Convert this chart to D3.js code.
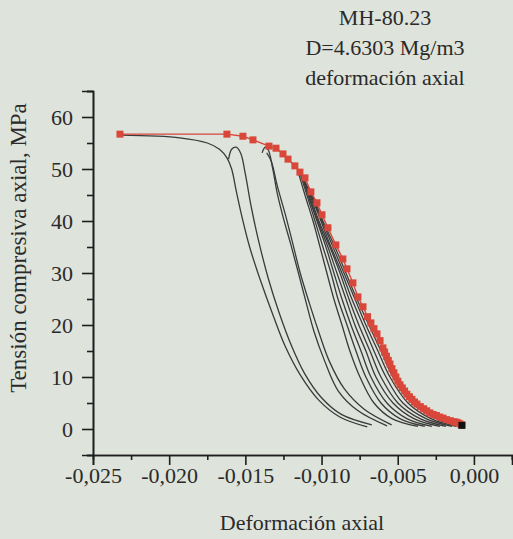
<!DOCTYPE html>
<html>
<head>
<meta charset="utf-8">
<script src="https://cdn.jsdelivr.net/npm/d3@7"></script>
<style>
  body { margin: 0; background: #dee3dc; }
  svg { display: block; }
</style>
</head>
<body>
<svg class="chart" width="513" height="539"></svg>
<script>
// title lines
let titleLines = ["MH-80.23", "D=4.6303 Mg/m3", "deformación axial"];

// axis ticks
let xTicks = [-0.025, -0.020, -0.015, -0.010, -0.005, 0.000];
let xMinor = [-0.0225, -0.0175, -0.0125, -0.0075, -0.0025, 0.0025];
let yTicks = [0, 10, 20, 30, 40, 50, 60];
let yMinor = [-5, 5, 15, 25, 35, 45, 55, 65];

// envelope (red markers) [strain, stress MPa]
let envelope = [
  [-0.02323, 56.7], [-0.01621, 56.7], [-0.01516, 56.3], [-0.0145, 55.6], [-0.01345, 54.4],
  [-0.01299, 54.0], [-0.01253, 52.9], [-0.0122, 51.9], [-0.01175, 50.6], [-0.01142, 49.4],
  [-0.01109, 48.3], [-0.0107, 45.6], [-0.0103, 43.5], [-0.00997, 41.2], [-0.00958, 38.7],
  [-0.00906, 35.4], [-0.0086, 32.7], [-0.00833, 30.8], [-0.00794, 28.1], [-0.00761, 25.4],
  [-0.00728, 23.5], [-0.00698, 21.6], [-0.00676, 20.4], [-0.00656, 19.3], [-0.00636, 18.3],
  [-0.00616, 17.0], [-0.00597, 15.6], [-0.00586, 14.8], [-0.00574, 14.0], [-0.00562, 13.2],
  [-0.00551, 12.5], [-0.00538, 11.6], [-0.00525, 10.8], [-0.00512, 10.0], [-0.00499, 9.2],
  [-0.00485, 8.5], [-0.0047, 7.9], [-0.00455, 7.3], [-0.0044, 6.7], [-0.00423, 6.2],
  [-0.00407, 5.7], [-0.0039, 5.2], [-0.00374, 4.8], [-0.00352, 4.3], [-0.0033, 3.9],
  [-0.0031, 3.5], [-0.00289, 3.1], [-0.00268, 2.8], [-0.00246, 2.6], [-0.00225, 2.3],
  [-0.00203, 2.1], [-0.0018, 1.8], [-0.00155, 1.6], [-0.0013, 1.4], [-0.00117, 1.3],
  [-0.00105, 1.2], [-0.00092, 1.0], [-0.00079, 0.8]
];
let endPoint = [-0.00079, 0.7];

// black curves, left group
let curveK1 = [[-0.0232, 56.5], [-0.0193, 56.0], [-0.0175, 55.0], [-0.0167, 53.8], [-0.0162, 52.1],
  [-0.0159, 50.0], [-0.0156, 45.8], [-0.0152, 40.5], [-0.0147, 34.8], [-0.0140, 28.5],
  [-0.0132, 22.0], [-0.0124, 16.0], [-0.0114, 10.4], [-0.0102, 5.6], [-0.0088, 2.3], [-0.0070, 0.4]];
let curveK2 = [[-0.0161, 51.9], [-0.0159, 53.8], [-0.0156, 54.2], [-0.0153, 53.0], [-0.0150, 49.0],
  [-0.0146, 42.5], [-0.0141, 35.8], [-0.0135, 29.0], [-0.0128, 22.5], [-0.0120, 16.2],
  [-0.0111, 10.6], [-0.0100, 6.0], [-0.0087, 2.8], [-0.0067, 0.8]];
let curveK3 = [[-0.0139, 53.1], [-0.0137, 54.2], [-0.0135, 53.7], [-0.0132, 50.0], [-0.0129, 45.2],
  [-0.0125, 40.5], [-0.0120, 35.3], [-0.0115, 29.8], [-0.0110, 24.2], [-0.0105, 18.8],
  [-0.0098, 13.1], [-0.0089, 7.3], [-0.0076, 3.5], [-0.0057, 0.6]];
let curveK4 = [[-0.0136, 53.1], [-0.0133, 51.5], [-0.0129, 46.7], [-0.0124, 41.5], [-0.0119, 35.8],
  [-0.0114, 30.0], [-0.0108, 24.2], [-0.0102, 18.8], [-0.0095, 13.1], [-0.0085, 7.7],
  [-0.0072, 3.8], [-0.0054, 0.8]];

// black curves, right group (close to envelope)
let curveR1 = [[-0.01155, 49.6], [-0.01109, 45], [-0.01056, 40], [-0.0101, 35], [-0.00965, 30], [-0.00919, 25],
  [-0.00866, 20], [-0.00814, 15], [-0.00748, 10], [-0.00656, 5], [-0.00538, 2], [-0.00367, 0.5]];
let curveR2 = [[-0.01142, 49.2], [-0.01096, 45], [-0.01043, 40], [-0.00991, 35], [-0.00938, 30], [-0.00892, 25],
  [-0.00833, 20], [-0.00774, 15], [-0.00709, 10], [-0.0061, 5], [-0.00486, 2], [-0.00322, 0.5]];
let curveR3 = [[-0.01135, 49.2], [-0.01089, 45], [-0.0103, 40], [-0.00971, 35], [-0.00919, 30], [-0.00866, 25],
  [-0.00807, 20], [-0.00741, 15], [-0.00676, 10], [-0.00571, 5], [-0.0044, 2], [-0.00276, 0.5]];
let curveR4 = [[-0.01129, 48.8], [-0.01083, 45], [-0.01024, 40], [-0.00958, 35], [-0.00899, 30], [-0.0084, 25],
  [-0.00781, 20], [-0.00709, 15], [-0.00643, 10], [-0.00531, 5], [-0.00394, 2], [-0.00223, 0.5]];
let curveR5 = [[-0.01115, 48.1], [-0.01076, 45], [-0.01017, 40], [-0.00945, 35], [-0.00879, 30], [-0.0082, 25],
  [-0.00755, 20], [-0.00682, 15], [-0.0061, 10], [-0.00499, 5], [-0.00354, 2], [-0.00184, 0.5]];
let curveR6 = [[-0.01109, 47.5], [-0.0107, 45], [-0.01004, 40], [-0.00938, 35], [-0.00866, 30], [-0.00801, 25],
  [-0.00728, 20], [-0.00656, 15], [-0.00577, 10], [-0.00466, 5], [-0.00315, 2], [-0.00144, 0.5]];
let curveR7 = [[-0.01102, 46.9], [-0.0107, 45], [-0.00997, 40], [-0.00925, 35], [-0.00853, 30], [-0.00781, 25],
  [-0.00709, 20], [-0.0063, 15], [-0.00551, 10], [-0.00433, 5], [-0.00282, 2], [-0.00118, 0.5]];
let curveR8 = [[-0.01096, 46.5], [-0.01063, 45], [-0.00991, 40], [-0.00912, 35], [-0.0084, 30], [-0.00768, 25],
  [-0.00689, 20], [-0.0061, 15], [-0.00531, 10], [-0.00407, 5], [-0.00249, 2], [-0.00092, 0.5]];

let blackCurves = [curveK1, curveK2, curveK3, curveK4,
  curveR1, curveR2, curveR3, curveR4, curveR5, curveR6, curveR7, curveR8];

let svg = d3.select(".chart");
let font = "'Liberation Serif', 'Times New Roman', serif";
let ink = "#1e1e1e";
let red = "#d9473a";

let x = d3.scaleLinear().domain([-0.025, 0.0025]).range([93, 512]);
let y = d3.scaleLinear().domain([-5, 65]).range([455, 91]);

let fmt = function(d){ return d3.format(".3f")(d).replace(".", ",").replace("−", "-"); };

// x axis
svg.append("g")
  .attr("transform", "translate(0," + y(-5) + ")")
  .call(d3.axisBottom(x).tickValues(xTicks).tickSize(10).tickPadding(2).tickFormat(fmt));
svg.append("g")
  .attr("transform", "translate(0," + y(-5) + ")")
  .call(d3.axisBottom(x).tickValues(xMinor).tickSize(5).tickFormat(""));

// y axis
svg.append("g")
  .attr("transform", "translate(" + x(-0.025) + ",0)")
  .call(d3.axisLeft(y).tickValues(yTicks).tickSize(11).tickPadding(9));
svg.append("g")
  .attr("transform", "translate(" + x(-0.025) + ",0)")
  .call(d3.axisLeft(y).tickValues(yMinor).tickSize(6).tickFormat(""));

svg.selectAll(".domain").attr("stroke", ink).attr("stroke-width", 1.6);
svg.selectAll(".tick line").attr("stroke", ink).attr("stroke-width", 1.6);
svg.selectAll(".tick text")
  .style("font-family", font)
  .style("font-size", "22px")
  .attr("fill", "#2a2a2a");

// black curves
let line = d3.line()
  .x(function(d){ return x(d[0]); })
  .y(function(d){ return y(d[1]); })
  .curve(d3.curveCatmullRom.alpha(0.5));

svg.append("g").selectAll("path")
  .data(blackCurves)
  .enter()
  .append("path")
  .attr("d", line)
  .attr("fill", "none")
  .attr("stroke", "#3a3a3a")
  .attr("stroke-width", 1.3);

// red envelope
let redLine = d3.line()
  .x(function(d){ return x(d[0]); })
  .y(function(d){ return y(d[1]); });

svg.append("path")
  .datum(envelope)
  .attr("d", redLine)
  .attr("fill", "none")
  .attr("stroke", red)
  .attr("stroke-width", 1.4);

svg.append("g").selectAll("rect")
  .data(envelope)
  .enter()
  .append("rect")
  .attr("x", function(d){ return x(d[0]) - 3.5; })
  .attr("y", function(d){ return y(d[1]) - 3.5; })
  .attr("width", 7)
  .attr("height", 7)
  .attr("fill", red);

svg.append("rect")
  .attr("x", x(endPoint[0]) - 3.5)
  .attr("y", y(endPoint[1]) - 3.5)
  .attr("width", 7)
  .attr("height", 7)
  .attr("fill", "#111");

// title
svg.append("g").selectAll("text")
  .data(titleLines)
  .enter()
  .append("text")
  .attr("x", 385)
  .attr("y", function(d, i){ return 25 + i * 30; })
  .attr("text-anchor", "middle")
  .style("font-family", font)
  .style("font-size", "22px")
  .attr("fill", "#2a2a2a")
  .text(function(d){ return d; });

// axis titles
svg.append("text")
  .attr("transform", "translate(26,248) rotate(-90)")
  .attr("text-anchor", "middle")
  .style("font-family", font)
  .style("font-size", "23px")
  .attr("fill", "#2a2a2a")
  .text("Tensión compresiva axial, MPa");

svg.append("text")
  .attr("x", 302)
  .attr("y", 530)
  .attr("text-anchor", "middle")
  .style("font-family", font)
  .style("font-size", "22px")
  .attr("fill", "#2a2a2a")
  .text("Deformación axial");
</script>
</body>
</html>
